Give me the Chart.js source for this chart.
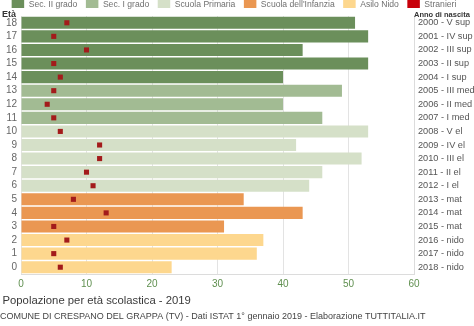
<!DOCTYPE html>
<html>
<head>
<meta charset="utf-8">
<script src="https://cdn.jsdelivr.net/npm/chart.js@4.4.1/dist/chart.umd.min.js"></script>
<style>
  html, body { margin: 0; padding: 0; background: #fff; }
  #c { display: block; }
</style>
</head>
<body>
<canvas id="c" width="474" height="326"></canvas>
<script>
// ---- data ----
const ages = ['18','17','16','15','14','13','12','11','10','9','8','7','6','5','4','3','2','1','0'];
const birthYears = ['2000 - V sup','2001 - IV sup','2002 - III sup','2003 - II sup','2004 - I sup',
  '2005 - III med','2006 - II med','2007 - I med','2008 - V el','2009 - IV el','2010 - III el',
  '2011 - II el','2012 - I el','2013 - mat','2014 - mat','2015 - mat','2016 - nido','2017 - nido','2018 - nido'];
const totals = [51,53,43,53,40,49,40,46,53,42,52,46,44,34,43,31,37,36,23];
const stranieri = [7,5,10,5,6,5,4,5,6,12,12,10,11,8,13,5,7,5,6];
const rowLevel = ['Sec. II grado','Sec. II grado','Sec. II grado','Sec. II grado','Sec. II grado',
  'Sec. I grado','Sec. I grado','Sec. I grado',
  'Scuola Primaria','Scuola Primaria','Scuola Primaria','Scuola Primaria','Scuola Primaria',
  "Scuola dell'Infanzia","Scuola dell'Infanzia","Scuola dell'Infanzia",
  'Asilo Nido','Asilo Nido','Asilo Nido'];
const levels = ['Sec. II grado','Sec. I grado','Scuola Primaria',"Scuola dell'Infanzia",'Asilo Nido'];
const xTicks = { min: 0, max: 60, step: 10 };

// ---- styles ----
const FONT = '"Liberation Sans", Arial, Helvetica, sans-serif';
const levelColors = ['#6b8f5b','#a2bb93','#d5e0c8','#ea9752','#fdd78e'];
const pointColor = '#a31b1b';
const legendStranieriColor = '#c8000a';

const datasets = levels.map((name, k) => ({
  type: 'bar',
  label: name,
  data: totals.map((v, i) => rowLevel[i] === name ? v : null),
  backgroundColor: levelColors[k],
  borderWidth: 0,
  barPercentage: 0.89,
  categoryPercentage: 1,
  grouped: false,
  order: 1,
  xAxisID: 'x', yAxisID: 'y'
}));
datasets.push({
  type: 'line',
  label: 'Stranieri',
  data: stranieri,
  showLine: false,
  pointStyle: 'rect',
  pointRadius: 3.6,
  pointBorderWidth: 0,
  pointBackgroundColor: pointColor,
  backgroundColor: pointColor,
  order: 0,
  xAxisID: 'x', yAxisID: 'y'
});

const decor = {
  id: 'decor',
  afterDraw(chart) {
    const ctx = chart.ctx;
    ctx.save();
    // legend
    const items = chart.data.datasets.map((d, i) => ({
      label: d.label,
      color: d.type === 'line' ? legendStranieriColor : d.backgroundColor
    }));
    const fs = 8.6, boxW = 12.5, boxH = 10, gap = 4.5, spacing = 8.5;
    ctx.font = fs + 'px ' + FONT;
    const widths = items.map(it => ctx.measureText(it.label).width);
    let total = 0;
    widths.forEach((w, i) => { total += boxW + gap + w + (i ? spacing : 0); });
    let x = (chart.width - total) / 2 - 3;
    ctx.textBaseline = 'middle';
    ctx.textAlign = 'left';
    items.forEach((it, i) => {
      ctx.fillStyle = it.color;
      ctx.fillRect(x, -2, boxW, boxH);
      ctx.fillStyle = '#707070';
      ctx.fillText(it.label, x + boxW + gap, 4.5);
      x += boxW + gap + widths[i] + spacing;
    });
    // axis headers
    ctx.fillStyle = '#333';
    ctx.textBaseline = 'alphabetic';
    ctx.font = 'bold 9px ' + FONT;
    ctx.fillText('Età', 2, 16.5);
    ctx.font = 'bold 7.5px ' + FONT;
    ctx.fillText('Anno di nascita', chart.chartArea.right, 16.5);
    // title + footer
    ctx.textBaseline = 'middle';
    ctx.fillStyle = '#3a3a3a';
    ctx.font = '11.3px ' + FONT;
    ctx.fillText('Popolazione per età scolastica - 2019', 2.5, 300.5);
    ctx.fillStyle = '#444';
    ctx.font = '9px ' + FONT;
    ctx.fillText('COMUNE DI CRESPANO DEL GRAPPA (TV) - Dati ISTAT 1° gennaio 2019 - Elaborazione TUTTITALIA.IT', 0, 316.5);
    ctx.restore();
  }
};

new Chart(document.getElementById('c'), {
  data: { labels: ages, datasets },
  options: {
    responsive: false,
    animation: false,
    indexAxis: 'y',
    layout: { padding: { top: 16, left: 0, right: 0, bottom: 0 } },
    plugins: { legend: { display: false }, tooltip: { enabled: false } },
    scales: {
      x: {
        type: 'linear', position: 'bottom', min: xTicks.min, max: xTicks.max, z: 1,
        ticks: { stepSize: xTicks.step, padding: 4, color: '#5f8f4f', font: { size: 10, family: FONT } },
        grid: { color: 'rgba(0,0,0,0.11)', drawTicks: false, lineWidth: 1 },
        border: { display: true, color: '#dcdcdc' },
        afterFit(s) { s.height = 52; }
      },
      y: {
        type: 'category', position: 'left', offset: true,
        grid: { display: false, drawTicks: false },
        border: { display: false },
        ticks: { autoSkip: false, color: '#666', padding: 4, font: { size: 10, family: FONT } },
        afterFit(s) { s.width = 21; }
      },
      y2: {
        type: 'category', axis: 'y', position: 'right', offset: true, labels: birthYears,
        grid: { display: false, drawTicks: false },
        border: { display: true, color: '#dcdcdc' },
        ticks: { autoSkip: false, color: '#555', padding: 4, font: { size: 9.2, family: FONT } },
        afterFit(s) { s.width = 60; }
      }
    }
  },
  plugins: [decor]
});
</script>
</body>
</html>
